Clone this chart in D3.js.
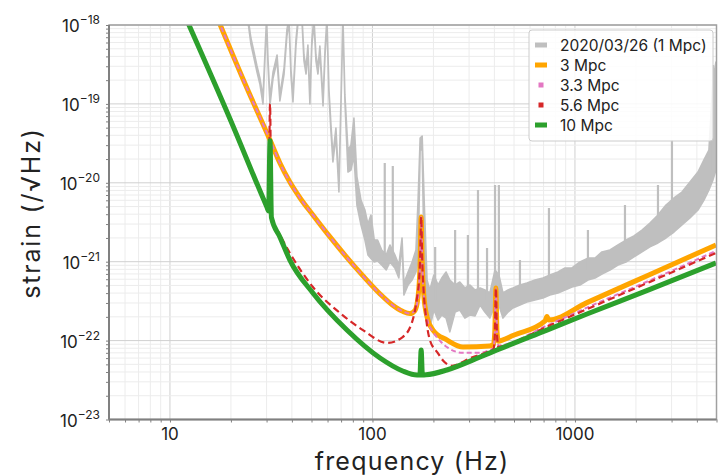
<!DOCTYPE html>
<html><head><meta charset="utf-8">
<script src="https://cdn.jsdelivr.net/npm/d3@7"></script>
<style>
body{margin:0;background:#fff;}
svg text{font-family:Inter,"Open Sans",sans-serif;fill:#222;}
</style>
</head><body>
<svg id="chart" width="722" height="476"></svg>
<script>
// ---------- data ----------
const xTickValues = [10, 100, 1000];
const xTickLabels = ["10", "100", "1000"];
const yTickValues = [1e-18, 1e-19, 1e-20, 1e-21, 1e-22, 1e-23];
const yTickExponents = ["\u221218", "\u221219", "\u221220", "\u221221", "\u221222", "\u221223"];
const legendLabels = ["2020/03/26 (1 Mpc)", "3 Mpc", "3.3 Mpc", "5.6 Mpc", "10 Mpc"];
const xTitle = "frequency (Hz)";
const yTitle = "strain (/\u221AHz)";

// measured spectrum 2020/03/26: [frequency, upper edge, lower edge]
const measuredBand = [
 [24.3,1.23e-18,1.09e-18],[25.1,6.84e-19,5.74e-19],[26.0,4.55e-19,3.82e-19],[26.9,3.02e-19,2.54e-19],
 [27.8,2.13e-19,1.79e-19],[28.8,1.22e-19,9.97e-20],[29.5,4.82e-19,4.05e-19],[30.0,1.23e-18,1.09e-18],
 [30.5,3.60e-19,3.02e-19],[31.2,1.19e-19,9.68e-20],[32.3,2.54e-19,2.13e-19],[33.8,4.17e-19,3.50e-19],
 [34.9,1.30e-19,1.09e-19],[36.6,2.85e-19,2.39e-19],[37.8,8.64e-19,7.25e-19],[38.7,1.23e-18,1.09e-18],
 [39.6,2.69e-19,2.26e-19],[40.5,1.26e-19,1.06e-19],[41.9,6.45e-19,5.42e-19],[42.9,1.23e-18,1.09e-18],
 [44.9,1.23e-18,1.09e-18],[45.9,4.17e-19,3.50e-19],[47.0,2.85e-19,2.39e-19],[48.0,5.58e-19,4.68e-19],
 [49.1,1.19e-19,9.97e-20],[50.2,6.45e-19,5.42e-19],[51.4,1.23e-18,1.09e-18],[52.6,4.17e-19,3.50e-19],
 [53.8,2.85e-19,2.39e-19],[55.0,5.42e-19,4.55e-19],[57.0,1.12e-19,9.40e-20],[58.3,4.82e-19,4.05e-19],
 [59.6,1.23e-18,1.09e-18],[61.0,1.50e-19,1.26e-19],[62.4,5.40e-20,4.40e-20],[63.8,2.25e-20,1.84e-20],
 [66.0,4.95e-20,3.92e-20],[68.3,9.38e-21,7.64e-21],[69.9,1.12e-19,9.40e-20],[71.5,1.23e-18,1.09e-18],
 [73.1,1.30e-19,1.09e-19],[75.7,2.60e-20,1.37e-20],[78.3,3.00e-20,1.45e-20],[81.0,6.63e-20,2.20e-20],
 [83.8,1.20e-20,5.23e-21],[87.8,6.00e-21,2.92e-21],[91.8,4.50e-21,1.88e-21],[95.0,3.00e-21,1.22e-21],
 [98.3,3.91e-21,1.10e-21],[102,1.90e-21,9.91e-22],[106,1.88e-21,1.02e-21],[111,1.41e-21,9.08e-22],
 [117,1.22e-21,7.85e-22],[122,1.63e-21,9.91e-22],[129,1.22e-21,8.32e-22],[135,9.08e-22,6.21e-22],
 [140,2.00e-21,1.68e-21],[143,5.37e-22,3.78e-22],[150,7.40e-22,5.07e-22],[157,9.91e-22,5.86e-22],
 [164,1.41e-21,7.40e-22],[168,6.05e-21,1.05e-21],[172,3.70e-20,2.60e-20],[176,3.92e-20,2.60e-20],
 [180,6.05e-21,9.91e-22],[186,5.86e-22,1.82e-22],[192,4.38e-22,1.44e-22],[201,6.78e-22,2.44e-22],
 [211,5.07e-22,1.82e-22],[220,6.21e-22,2.11e-22],[231,7.40e-22,1.93e-22],[241,5.86e-22,1.29e-22],
 [256,5.07e-22,2.30e-22],[270,5.53e-22,2.44e-22],[286,4.64e-22,1.93e-22],[303,5.07e-22,2.11e-22],
 [321,4.38e-22,2.05e-22],[340,4.64e-22,2.83e-22],[359,4.38e-22,2.30e-22],[380,4.01e-22,1.93e-22],
 [403,7.85e-22,2.83e-22],[421,6.78e-22,2.83e-22],[441,4.01e-22,1.93e-22],[467,4.38e-22,2.30e-22],
 [494,4.64e-22,2.59e-22],[535,5.07e-22,2.83e-22],[579,5.37e-22,3.08e-22],[635,5.86e-22,3.27e-22],
 [695,6.21e-22,3.47e-22],[752,6.78e-22,3.78e-22],[824,7.40e-22,4.01e-22],[893,8.32e-22,4.38e-22],
 [967,8.32e-22,4.78e-22],[1058,9.91e-22,5.07e-22],[1159,1.11e-21,5.86e-22],[1256,1.11e-21,6.21e-22],
 [1359,1.33e-21,6.98e-22],[1489,1.41e-21,7.85e-22],[1631,1.63e-21,9.08e-22],[1786,1.88e-21,9.91e-22],
 [1956,2.12e-21,1.15e-21],[2143,2.52e-21,1.33e-21],[2346,3.09e-21,1.54e-21],[2570,3.91e-21,1.73e-21],
 [2815,5.23e-21,2.00e-21],[3083,6.42e-21,2.38e-21],[3376,7.64e-21,2.92e-21],[3698,1.02e-20,3.58e-21],
 [4050,1.37e-20,4.52e-21],[4335,1.95e-20,6.05e-21],[4588,2.60e-20,8.11e-21],[4803,2.01e-19,1.09e-20],
 [4970,3.40e-19,1.45e-20]
];
// narrow lines in the measured spectrum: [frequency, base, peak]
const measuredLines = [
 [115,1.22e-21,1.78e-20],[126,1.22e-21,1.63e-20],[204,3.27e-22,1.54e-21],[256,3.27e-22,2.52e-21],
 [296,3.27e-22,2.18e-21],[332,3.27e-22,8.11e-21],[368,3.27e-22,1.49e-21],[403,3.27e-22,9.38e-21],
 [421,3.27e-22,9.38e-21],[535,4.38e-22,1.05e-21],[744,5.07e-22,4.80e-21],[1159,7.85e-22,2.52e-21],
 [1766,1.11e-21,5.23e-21],[2570,1.88e-21,9.38e-21],[3013,2.52e-21,3.48e-20],[4803,1.45e-20,3.11e-19]
];
// design sensitivities: [frequency, strain]
const sens3Mpc = [
 [17.3,1.16e-18],[23.4,1.84e-19],[31.2,3.48e-20],[34.9,1.78e-20],[39.1,1.02e-20],[43.9,6.42e-21],
 [50.8,3.91e-21],[61.7,2.06e-21],[89.8,6.6e-22],[109,3.9e-22],[125,2.85e-22],[141,2.35e-22],
 [153,2.2e-22],[162,2.4e-22],[168,3.6e-22],[172,1.0e-21],[174,3.69e-21],[176,1.0e-21],[179,4.0e-22],
 [186,1.99e-22],[199,1.36e-22],[233,1.02e-22],[280,8.3e-23],[380,8.55e-23],[396,8.9e-23],
 [402,1.32e-22],[407,4.64e-22],[412,1.32e-22],[419,9.8e-23],[441,1.02e-22],[494,1.16e-22],
 [712,1.78e-22],[727,2.02e-22],[742,1.83e-22],[1146,3.03e-22],[2346,6.89e-22],[4970,1.63e-21]
];
const sens3p3Mpc = [
 [17.3,1.16e-18],[23.4,1.84e-19],[31.2,3.48e-20],[34.9,1.78e-20],[39.1,1.02e-20],[43.9,6.42e-21],
 [50.8,3.91e-21],[61.7,2.06e-21],[89.8,6.6e-22],[109,3.9e-22],[125,2.85e-22],[141,2.35e-22],
 [153,2.2e-22],[162,2.4e-22],[168,3.6e-22],[172,1.0e-21],[174,3.69e-21],[176,1.0e-21],[179,3.9e-22],
 [186,1.9e-22],[199,1.3e-22],[215,1.0e-22],[233,8.3e-23],[280,7.0e-23],[340,7.0e-23],[380,7.6e-23],
 [396,8.0e-23],[402,1.25e-22],[407,4.64e-22],[412,1.25e-22],[419,8.6e-23],[441,8.8e-23],
 [727,1.55e-22],[1146,2.62e-22],[2346,5.8e-22],[4970,1.37e-21]
];
const sens5p6Mpc = [
 [12.1,1.16e-18],[19.8,6.44e-20],[30.1,4.93e-21],[30.7,4.39e-21],[31.2,1.0e-19],[31.7,3.63e-21],
 [34.9,2.2e-21],[39.1,1.29e-21],[50.8,4.78e-22],[69.1,2.24e-22],[89.8,1.36e-22],[118,9.33e-23],
 [141,1.11e-22],[157,1.73e-22],[166,3.5e-22],[170,6.0e-22],[172,1.1e-21],[174,3.69e-21],[176,1.1e-21],
 [179,4.2e-22],[183,2.2e-22],[192,1.02e-22],[210,7.0e-23],[223,5.6e-23],[247,4.8e-23],[304,6.0e-23],
 [380,7.4e-23],[396,7.8e-23],[402,1.2e-22],[407,4.64e-22],[412,1.2e-22],[419,8.3e-23],[441,8.55e-23],
 [727,1.5e-22],[1146,2.5e-22],[2346,5.55e-22],[4970,1.29e-21]
];
const sens10Mpc = [
 [12.1,1.16e-18],[19.8,6.44e-20],[30.1,4.93e-21],[30.7,4.39e-21],[31.2,3.4e-20],[31.7,3.63e-21],
 [34.9,2.06e-21],[39.1,1.05e-21],[50.8,4.01e-22],[74.8,1.36e-22],[109,6.01e-23],[141,4.12e-23],
 [166,3.66e-23],[171.5,3.66e-23],[174,7.6e-23],[176.5,3.66e-23],[184,3.68e-23],[233,4.24e-23],
 [340,6.19e-23],[412,7.6e-23],[727,1.36e-22],[1146,2.17e-22],[2346,4.45e-22],[4970,9.63e-22]
];

// ---------- chart ----------
const svg = d3.select("#chart");
const x = d3.scaleLog().domain([5, 5000]).range([109, 716.5]);
const y = d3.scaleLog().domain([1e-23, 1e-18]).range([419.5, 25]);
const [x0, x1] = x.range(), [y1, y0] = y.range();

const colGray = "#bfbfbf", colOrange = "#ffa500", colPink = "#e377c2", colRed = "#d62728", colGreen = "#2ca02c";

// grid
const xMinor = [], yMinor = [];
[1, 10, 100, 1000].forEach(d => { for (let k = 1; k < 10; k++) { const v = k * d; if (v >= 5 && v <= 5000) xMinor.push(v); } });
[1e-23, 1e-22, 1e-21, 1e-20, 1e-19].forEach(d => { for (let k = 1; k < 10; k++) yMinor.push(k * d); });
yMinor.push(1e-18);
const grid = svg.append("g");
grid.selectAll(".xm").data(xMinor).join("line")
  .attr("x1", d => x(d)).attr("x2", d => x(d)).attr("y1", y0).attr("y2", y1)
  .attr("stroke", d => xTickValues.includes(d) ? "#d0d0d0" : "#ececec").attr("stroke-width", 1);
grid.selectAll(".ym").data(yMinor).join("line")
  .attr("y1", d => y(d)).attr("y2", d => y(d)).attr("x1", x0).attr("x2", x1)
  .attr("stroke", d => yTickValues.some(t => Math.abs(t - d) / t < 1e-6) ? "#d0d0d0" : "#ececec").attr("stroke-width", 1);

// clip
svg.append("clipPath").attr("id", "clip").append("rect")
  .attr("x", x0).attr("y", y0).attr("width", x1 - x0).attr("height", y1 - y0);
const plot = svg.append("g").attr("clip-path", "url(#clip)");

// measured spectrum
const band = d3.area().x(d => x(d[0])).y0(d => y(d[2])).y1(d => y(d[1]));
plot.append("path").datum(measuredBand).attr("d", band)
  .attr("fill", colGray).attr("stroke", colGray).attr("stroke-width", 1.6).attr("stroke-linejoin", "round");
plot.selectAll(".spk").data(measuredLines).join("line")
  .attr("x1", d => x(d[0])).attr("x2", d => x(d[0]))
  .attr("y1", d => y(d[1])).attr("y2", d => y(d[2]))
  .attr("stroke", colGray).attr("stroke-width", 2.2);

const line = d3.line().x(d => x(d[0])).y(d => y(d[1])).curve(d3.curveMonotoneX);
plot.append("path").datum(sens3Mpc).attr("d", line).attr("fill", "none")
  .attr("stroke", colOrange).attr("stroke-width", 5).attr("stroke-linejoin", "round");
plot.append("path").datum(sens3p3Mpc).attr("d", line).attr("fill", "none")
  .attr("stroke", colPink).attr("stroke-width", 2).attr("stroke-dasharray", "5,3");
plot.append("path").datum(sens5p6Mpc).attr("d", line).attr("fill", "none")
  .attr("stroke", colRed).attr("stroke-width", 2.2).attr("stroke-dasharray", "7,4");
plot.append("path").datum(sens10Mpc).attr("d", line).attr("fill", "none")
  .attr("stroke", colGreen).attr("stroke-width", 5).attr("stroke-linejoin", "round");

// frame
svg.append("rect").attr("x", x0).attr("y", y0).attr("width", x1 - x0).attr("height", y1 - y0)
  .attr("fill", "none").attr("stroke", "#a0a0a0").attr("stroke-width", 1.5);
svg.append("line").attr("x1", x0).attr("x2", x0).attr("y1", y0).attr("y2", y1).attr("stroke", "#808080").attr("stroke-width", 2);
svg.append("line").attr("x1", x0).attr("x2", x1).attr("y1", y1).attr("y2", y1).attr("stroke", "#808080").attr("stroke-width", 2);

// axes (ticks)
const xAx = svg.append("g").attr("transform", `translate(0,${y1})`)
  .call(d3.axisBottom(x).tickValues(xMinor).tickSize(3).tickFormat(""));
const yAx = svg.append("g").attr("transform", `translate(${x0},0)`)
  .call(d3.axisLeft(y).tickValues(yMinor).tickSize(3).tickFormat(""));
[xAx, yAx].forEach(g => { g.select(".domain").remove(); g.selectAll("line").attr("stroke", "#808080"); });

// tick labels
xTickValues.forEach((v, i) => {
  svg.append("text").attr("x", x(v)).attr("y", 440).attr("text-anchor", "middle")
    .attr("font-size", 17).text(xTickLabels[i]);
});
yTickValues.forEach((v, i) => {
  const t = svg.append("text").attr("x", 100).attr("y", y(v) + 7).attr("text-anchor", "end").attr("font-size", 17);
  t.append("tspan").text("10");
  t.append("tspan").attr("dy", -8).attr("font-size", 12).text(yTickExponents[i]);
});

// titles
svg.append("text").attr("x", 412).attr("y", 470).attr("text-anchor", "middle").attr("font-size", 25)
  .attr("letter-spacing", 1.2).text(xTitle);
svg.append("text").attr("transform", "translate(40,213) rotate(-90)").attr("text-anchor", "middle")
  .attr("font-size", 25).attr("letter-spacing", 1.8).text(yTitle);

// legend
const lg = svg.append("g");
lg.append("rect").attr("x", 529).attr("y", 30).attr("width", 184).attr("height", 111).attr("rx", 3)
  .attr("fill", "#fff").attr("fill-opacity", 0.85).attr("stroke", "#cccccc");
const legendColors = [colGray, colOrange, colPink, colRed, colGreen];
const legendDashed = [false, false, true, true, false];
legendLabels.forEach((lab, i) => {
  const cy = 45 + i * 20;
  if (legendDashed[i]) {
    lg.append("rect").attr("x", 538.5).attr("y", cy - 2.5).attr("width", 5).attr("height", 5).attr("fill", legendColors[i]);
  } else {
    lg.append("rect").attr("x", 535).attr("y", cy - 2.5).attr("width", 12).attr("height", 5).attr("fill", legendColors[i]);
  }
  lg.append("text").attr("x", 560).attr("y", cy + 5.5).attr("font-size", 15.5).text(lab);
});
</script>
</body></html>
